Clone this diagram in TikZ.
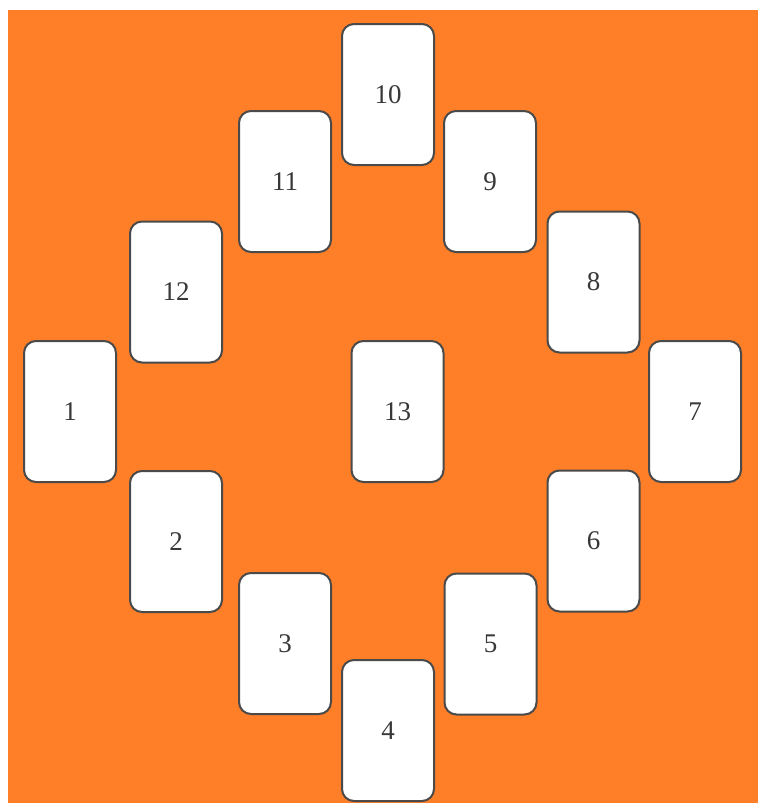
\documentclass[tikz,border=0pt]{standalone}
\usepackage{fontspec}
\setmainfont{Liberation Serif}
\definecolor{bgorange}{HTML}{FE7F27}
\definecolor{cardedge}{HTML}{4A4A4A}
\definecolor{cardtext}{HTML}{383838}
\begin{document}
\begin{tikzpicture}[x=1pt,y=-1pt,
  card/.style={draw=cardedge, fill=white, line width=2pt, rounded corners=12pt,
    minimum width=92pt, minimum height=141pt, inner sep=0pt,
    text=cardtext, font=\fontsize{27}{32}\selectfont}]
\useasboundingbox (0,0) rectangle (758,803);
\fill[bgorange] (8,10) rectangle (758,803);
\node[card] (c10) at (388,94.5) {10};
\node[card] (c11) at (285,181.5) {11};
\node[card] (c9) at (490,181.5) {9};
\node[card] (c12) at (176,292) {12};
\node[card] (c8) at (593.5,282) {8};
\node[card] (c1) at (70,411.5) {1};
\node[card] (c13) at (397.5,411.5) {13};
\node[card] (c7) at (695,411.5) {7};
\node[card] (c2) at (176,541.5) {2};
\node[card] (c6) at (593.5,541) {6};
\node[card] (c3) at (285,643.5) {3};
\node[card] (c5) at (490.5,644) {5};
\node[card] (c4) at (388,730.5) {4};
\end{tikzpicture}
\end{document}
